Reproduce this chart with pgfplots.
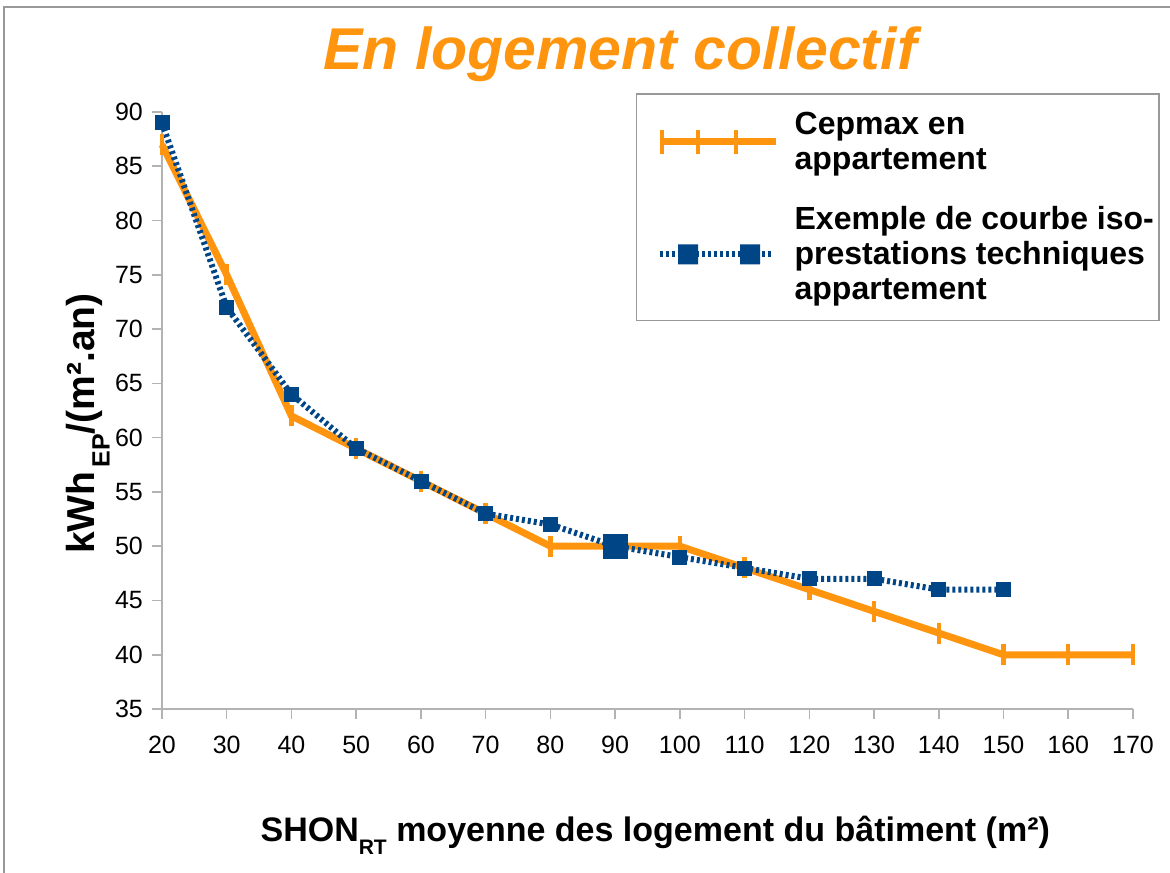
\documentclass[border=0pt]{standalone}
\usepackage{fontspec}
\setmainfont{Liberation Sans}
\usepackage{pgfplots}
\pgfplotsset{compat=1.18}
\definecolor{cepor}{HTML}{FF950E}
\definecolor{isoblue}{HTML}{004586}
\definecolor{axgray}{HTML}{B3B3B3}
\newcommand{\lowsub}[2][10.5]{\raisebox{-0.38em}{\fontsize{#1}{#1}\selectfont #2}}
\begin{document}
\begin{tikzpicture}
\begin{axis}[
  scale only axis, width=485.5pt, height=298.5pt,
  xmin=20, xmax=170, ymin=35, ymax=90,
  xtick={20,30,...,170}, ytick={35,40,...,90},
  axis lines*=left,
  axis line style={axgray, line width=0.8pt},
  tick style={axgray, line width=0.8pt},
  tick align=outside, major tick length=5pt,
  ticklabel style={font=\fontsize{12.5}{15}\selectfont},
  xticklabel style={yshift=-5pt},
  yticklabel style={xshift=-1pt},
  /pgf/number format/assume math mode=true,
  clip=false,
  xlabel={SHON\lowsub{RT} moyenne des logement du bâtiment (m²)},
  ylabel={kWh\lowsub[12.5]{\,EP}/(m².an)},
  xlabel style={font=\fontsize{17}{20}\selectfont\bfseries,
    at={(rel axis cs:0.508,-0.211)}, anchor=center},
  ylabel style={font=\fontsize{19.5}{22}\selectfont\bfseries,
    at={(rel axis cs:-0.076,0.478)}, anchor=center},
  legend cell align=left,
  legend style={at={(0.488,1.0318)}, anchor=north west,
    draw=gray!80, line width=0.8pt, inner xsep=0.5pt, inner ysep=7pt,
    row sep=13pt, font=\fontsize{16}{17.5}\selectfont\bfseries,
    cells={anchor=west, align=left},
    /tikz/every odd column/.append style={column sep=5.5pt}},
]
% Cepmax
\addplot[cepor, line width=3.5pt, mark=|, mark size=5.25pt,
  mark options={line width=2.2pt},
  legend image code/.code={
    \path (0pt,0pt);
    \draw[cepor, line width=3.5pt] (9.5pt,0pt) -- (67.5pt,0pt);
    \draw[cepor, line width=2pt] (10.5pt,-6pt) -- (10.5pt,6pt)
      (28.5pt,-6pt) -- (28.5pt,6pt) (47.5pt,-6pt) -- (47.5pt,6pt);
  }] coordinates {
  (20,87) (30,75) (40,62) (50,59) (60,56) (70,53) (80,50) (90,50)
  (100,50) (110,48) (120,46) (130,44) (140,42) (150,40) (160,40) (170,40)
};
\addlegendentry{Cepmax en\\appartement}
% courbe iso-prestations
\addplot[isoblue, line width=3pt, dash pattern=on 1.5pt off 1.5pt,
  mark=square*, mark size=3.5pt, mark options={solid, line width=0.4pt},
  legend image code/.code={
    \path (0pt,0pt);
    \draw[isoblue, line width=3pt, dash pattern=on 1.5pt off 1.5pt] (9.5pt,0pt) -- (65.5pt,0pt);
    \path[fill=isoblue, draw=none, solid] (18.5pt,-5pt) rectangle (28.5pt,5pt)
      (49.5pt,-5pt) rectangle (59.5pt,5pt);
  }] coordinates {
  (20,89) (30,72) (40,64) (50,59) (60,56) (70,53) (80,52) (90,50)
  (100,49) (110,48) (120,47) (130,47) (140,46) (150,46)
};
\addlegendentry{Exemple de courbe iso-\\prestations techniques\\appartement}
\addplot[isoblue, only marks, mark=square*, mark size=6pt,
  mark options={solid, line width=0.4pt}, forget plot]
  coordinates {(90,50)};
\node[cepor, font=\fontsize{29.5}{34}\selectfont\bfseries\itshape, anchor=base]
  at (rel axis cs:0.4717,1.072) {En logement collectif};
\draw[gray!80, line width=1pt] (rel axis cs:-0.1627,-0.6) |- (rel axis cs:1.3,1.1759);
\coordinate (bbsw) at (rel axis cs:-0.1668,-0.2730);
\coordinate (bbne) at (rel axis cs:1.0381,1.1876);
\end{axis}
\pgfresetboundingbox
\path[use as bounding box] (bbsw) rectangle (bbne);
\end{tikzpicture}
\end{document}
